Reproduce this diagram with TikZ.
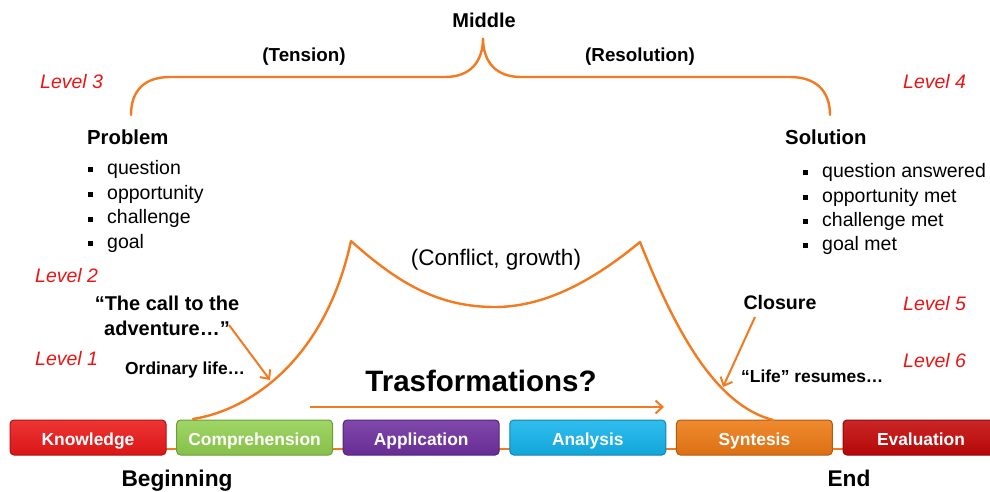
\documentclass[tikz,border=0pt]{standalone}
\usepackage{fontspec}
\setmainfont{Liberation Sans}
\usetikzlibrary{arrows.meta}
\definecolor{org}{RGB}{242,122,32}
\definecolor{lvl}{RGB}{235,20,20}
\definecolor{cK}{RGB}{236,24,24}
\definecolor{cC}{RGB}{146,208,80}
\definecolor{cA}{RGB}{112,48,160}
\definecolor{cN}{RGB}{20,180,236}
\definecolor{cS}{RGB}{238,122,20}
\definecolor{cE}{RGB}{196,8,8}
\newcommand\sqb{\raisebox{2.4pt}{\rule{5pt}{5pt}}\hspace{14pt}}
\begin{document}
\begin{tikzpicture}[x=1pt,y=-1pt,
  every node/.style={inner sep=0pt},
  one/.style={text height=.75em, text depth=.25em, yshift=-5pt},
  lvltxt/.style={one, anchor=west, text=lvl, font=\fontsize{19.5}{20}\selectfont\itshape},
  hd/.style={one, font=\fontsize{20}{22}\selectfont\bfseries},
  listtxt/.style={one, anchor=west, font=\fontsize{19.5}{22}\selectfont},
  small/.style={one, font=\fontsize{17.4}{18}\selectfont\bfseries},
  curve/.style={draw=org, line width=2.4pt, line cap=round},
  arr/.style={draw=org, line width=2pt, -{Straight Barb[length=7pt,width=13pt]}},
  blk/.style={minimum width=156pt, minimum height=35pt, rounded corners=4pt, line width=1pt,
    text height=15.6pt, text depth=0pt,
    text=white, font=\fontsize{17.4}{20}\selectfont\bfseries},
  bc/.style={top color=#1!88!white, bottom color=#1!92!black, draw=#1!75!black}]
\useasboundingbox (0,0) rectangle (990,491);
% line behind blocks
\coordinate (la) at (10,449);
\coordinate (lb) at (990,449);
\draw[org, line width=2pt] (la) -- (lb);
% blocks
\node[blk, bc=cK] (k) at (88,437.5) {Knowledge};
\node[blk, bc=cC] (c) at (254.6,437.5) {Comprehension};
\node[blk, bc=cA] (a) at (421.2,437.5) {Application};
\node[blk, bc=cN] (n) at (587.8,437.5) {Analysis};
\node[blk, bc=cS] (s) at (754.4,437.5) {Syntesis};
\node[blk, bc=cE] (e) at (921,437.5) {Evaluation};
\node[hd, font=\fontsize{22.7}{24}\selectfont\bfseries] (beg) at (177,479) {Beginning};
\node[hd, font=\fontsize{22.7}{24}\selectfont\bfseries] (end) at (849,479) {End};
% level labels
\node[lvltxt] (l3) at (40,81) {Level 3};
\node[lvltxt] (l4) at (903,81) {Level 4};
\node[lvltxt] (l2) at (35,275) {Level 2};
\node[lvltxt] (l1) at (35,358) {Level 1};
\node[lvltxt] (l5) at (903,303) {Level 5};
\node[lvltxt] (l6) at (903,360) {Level 6};
% top
\node[hd, font=\fontsize{20}{22}\selectfont\bfseries] (mid) at (484,20) {Middle};
\node[hd, font=\fontsize{18.8}{22}\selectfont\bfseries] (ten) at (304,54) {(Tension)};
\node[hd, font=\fontsize{18.8}{22}\selectfont\bfseries] (res) at (640,54) {(Resolution)};
\coordinate (bl) at (131,115);
\coordinate (br) at (830,115);
\coordinate (tip) at (483,38);
\draw[curve] (bl) .. controls (131,90) and (145,77) .. (170,77) -- (445,77)
  .. controls (470,77) and (483,62) .. (tip)
  .. controls (483,62) and (496,77) .. (521,77) -- (790,77)
  .. controls (815,77) and (830,90) .. (br);
% problem / solution
\node[hd, anchor=west, font=\fontsize{20.3}{22}\selectfont\bfseries] (prob) at (87,137) {Problem};
\node[hd, anchor=west, font=\fontsize{20.3}{22}\selectfont\bfseries] (sol) at (785,137) {Solution};
\foreach \t [count=\i] in {question, opportunity, challenge, goal}
  \node[listtxt] (p\i) at (88,{142.3+24.7*\i}) {\sqb\t};
\foreach \t [count=\i] in {question answered, opportunity met, challenge met, goal met}
  \node[listtxt] (s\i) at (803,{146+24.3*\i}) {\sqb\t};
% main curve
\coordinate (m0) at (193,419);
\coordinate (m1) at (351,241);
\coordinate (m2) at (495,307);
\coordinate (m3) at (640,242);
\coordinate (m4) at (773,420);
\draw[curve, line join=round] (m0) .. controls (250,410) and (325,360) .. (m1)
  .. controls (400,285) and (440,307) .. (m2)
  .. controls (550,307) and (600,275) .. (m3)
  .. controls (675,330) and (715,405) .. (m4);
\node[one, font=\fontsize{22.5}{24}\selectfont] (conf) at (496,258) {(Conflict, growth)};
% left texts
\node[align=center, font=\fontsize{20}{25}\selectfont\bfseries] (call) at (167,316) {“The call to the\\adventure…”};
\node[small, anchor=west] (ord) at (125,367) {Ordinary life…};
\coordinate (ca) at (229,325);
\coordinate (ct) at (270,380);
\draw[arr] (ca) -- (ct);
% right texts
\node[hd, font=\fontsize{19.6}{22}\selectfont\bfseries] (clo) at (780,302) {Closure};
\node[small, anchor=west] (life) at (741,375) {“Life” resumes…};
\coordinate (cb) at (755,317);
\coordinate (cr) at (723,387);
\draw[arr] (cb) -- (cr);
% transformations
\node[one, font=\fontsize{29.5}{30}\selectfont\bfseries] (tr) at (481,384) {Trasformations?};
\coordinate (ta) at (310,407);
\coordinate (tb) at (664,407);
\draw[arr] (ta) -- (tb);
\end{tikzpicture}
\end{document}
